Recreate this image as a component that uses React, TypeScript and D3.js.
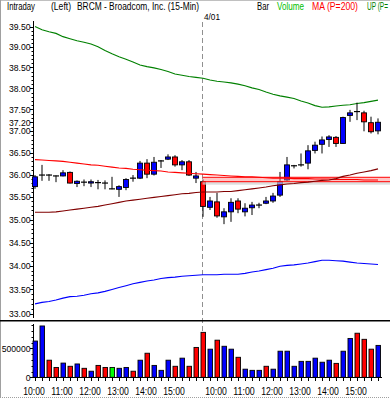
import React from 'react';
import * as d3 from 'd3';

// 15-minute bars, 3/31 from 10:00 and 4/01 from 09:30
const day1Times = ['10:00', '10:15', '10:30', '10:45', '11:00', '11:15', '11:30', '11:45', '12:00', '12:15', '12:30', '12:45',
  '13:00', '13:15', '13:30', '13:45', '14:00', '14:15', '14:30', '14:45', '15:00', '15:15', '15:30', '15:45'];
const day2Times = ['09:30', '09:45', '10:00', '10:15', '10:30', '10:45', '11:00', '11:15', '11:30', '11:45', '12:00', '12:15', '12:30',
  '12:45', '13:00', '13:15', '13:30', '13:45', '14:00', '14:15', '14:30', '14:45', '15:00', '15:15', '15:30', '15:45'];
const barKeys = [...day1Times.map(t => '3/31 ' + t), ...day2Times.map(t => '4/01 ' + t)];

const opens = [35.73, 35.99, 35.99, 35.97, 35.97, 36.05, 35.80, 35.83, 35.81, 35.82, 35.81, 35.68, 35.67, 35.71, 35.92, 35.92, 36.26, 36.01, 36.31, 36.35,
  36.40, 36.22, 36.29, 35.92, 35.84, 35.27, 35.39, 35.06, 35.17, 35.41, 35.17, 35.26, 35.32, 35.36, 35.41, 35.54, 35.88, 36.20, 36.22, 36.26,
  36.55, 36.69, 36.80, 36.85, 36.71, 37.36, 37.45, 37.42, 37.19, 37.00];
const highs = [35.99, 36.22, 36.01, 35.98, 36.10, 36.07, 35.87, 35.89, 35.89, 35.88, 35.87, 35.95, 35.76, 35.92, 35.99, 36.31, 36.35, 36.40, 36.33, 36.46,
  36.44, 36.33, 36.33, 36.06, 35.89, 35.50, 35.59, 35.25, 35.47, 35.47, 35.36, 35.39, 35.37, 35.50, 35.59, 36.06, 36.40, 36.22, 36.48, 36.67,
  36.75, 36.87, 36.90, 36.88, 37.33, 37.49, 37.66, 37.47, 37.33, 37.29];
const lows = [35.68, 35.86, 35.86, 35.83, 35.96, 35.80, 35.72, 35.74, 35.72, 35.67, 35.67, 35.67, 35.50, 35.65, 35.84, 35.90, 35.92, 35.98, 36.15, 36.33,
  36.18, 36.10, 35.97, 35.81, 35.06, 35.21, 35.04, 34.90, 34.95, 35.14, 35.07, 35.10, 35.25, 35.34, 35.37, 35.50, 35.86, 36.14, 36.18, 36.12,
  36.48, 36.48, 36.63, 36.63, 36.70, 37.21, 37.25, 36.99, 36.94, 36.92];
const closes = [35.95, 35.99, 35.99, 35.97, 36.04, 35.81, 35.85, 35.83, 35.84, 35.82, 35.81, 35.68, 35.73, 35.89, 35.92, 36.26, 36.01, 36.28, 36.31, 36.40,
  36.22, 36.29, 35.99, 35.97, 35.29, 35.41, 35.08, 35.17, 35.38, 35.23, 35.25, 35.32, 35.32, 35.41, 35.52, 35.84, 36.22, 36.20, 36.22, 36.54,
  36.67, 36.79, 36.86, 36.71, 37.31, 37.42, 37.45, 37.21, 36.98, 37.20];

const volumes = [625000, 885000, 295000, 170000, 245000, 190000, 230000, 155000, 105000, 205000, 170000, 170000, 155000, 170000, 105000, 295000,
  415000, 205000, 120000, 295000, 190000, 330000, 190000, 515000, 775000, 485000, 640000, 535000, 485000, 345000, 140000, 120000, 120000,
  190000, 140000, 450000, 450000, 190000, 275000, 275000, 330000, 260000, 295000, 240000, 450000, 670000, 760000, 655000, 485000, 550000];
// u = up, d = down, n = unchanged
const volumeDir = ['u', 'u', 'd', 'd', 'u', 'd', 'u', 'd', 'u', 'd', 'd', 'n', 'u', 'u', 'd', 'u', 'd', 'u', 'u', 'u',
  'd', 'u', 'd', 'd', 'd', 'u', 'd', 'u', 'u', 'd', 'u', 'u', 'u', 'd', 'u', 'u', 'u', 'u', 'u', 'u',
  'u', 'u', 'u', 'd', 'u', 'u', 'd', 'd', 'd', 'u'];

const upperBand = [39.50, 39.42, 39.37, 39.33, 39.25, 39.20, 39.15, 39.11, 39.07, 39.00, 38.91, 38.83, 38.76, 38.70, 38.63, 38.56, 38.52, 38.49,
  38.45, 38.40, 38.34, 38.31, 38.28, 38.26, 38.24, 38.20, 38.17, 38.15, 38.13, 38.10, 38.06, 38.01, 37.97, 37.91, 37.86, 37.82, 37.79, 37.76,
  37.70, 37.65, 37.59, 37.55, 37.56, 37.58, 37.60, 37.61, 37.64, 37.66, 37.69, 37.72];
const lowerBand = [33.20, 33.23, 33.25, 33.28, 33.32, 33.35, 33.36, 33.38, 33.41, 33.43, 33.46, 33.50, 33.54, 33.58, 33.62, 33.65, 33.68, 33.70,
  33.73, 33.75, 33.76, 33.78, 33.79, 33.80, 33.81, 33.81, 33.81, 33.82, 33.82, 33.82, 33.84, 33.87, 33.89, 33.92, 33.95, 33.99, 34.01, 34.02,
  34.04, 34.06, 34.09, 34.12, 34.12, 34.11, 34.10, 34.08, 34.06, 34.05, 34.04, 34.03];
const maLine = [36.34, 36.33, 36.32, 36.31, 36.30, 36.28, 36.26, 36.24, 36.22, 36.21, 36.19, 36.17, 36.15, 36.14, 36.12, 36.11, 36.10, 36.09,
  36.08, 36.06, 36.05, 36.04, 36.03, 36.02, 36.01, 36.00, 35.99, 35.98, 35.97, 35.96, 35.95, 35.95, 35.94, 35.93, 35.92, 35.92, 35.92, 35.91,
  35.91, 35.91, 35.90, 35.90, 35.90, 35.89, 35.89, 35.89, 35.89, 35.88, 35.88, 35.88];
const maSlow = [35.16, 35.16, 35.16, 35.17, 35.19, 35.21, 35.23, 35.25, 35.27, 35.29, 35.32, 35.35, 35.38, 35.41, 35.43, 35.45, 35.47, 35.49,
  35.51, 35.53, 35.55, 35.57, 35.58, 35.60, 35.61, 35.61, 35.61, 35.62, 35.62, 35.64, 35.66, 35.68, 35.70, 35.72, 35.75, 35.77, 35.79, 35.80,
  35.82, 35.83, 35.85, 35.87, 35.88, 35.91, 35.96, 35.99, 36.03, 36.06, 36.09, 36.13];

const bandLevel = 35.89;
const bandStart = '4/01 09:30';

const priceTicks = [39.5, 39, 38.5, 38, 37.5, 37.2, 37, 36.5, 36, 35.5, 35, 34.5, 34, 33.5, 33];
const volumeTicks = [0, 500000];

const W = 390;
const H = 398;
const axisX = 33;
const font = '"Liberation Sans", Arial, sans-serif';
const digitW = 4.8;

// narrow bitmap-like label width
const labelWidth = (s: string) => s.split('').reduce((w, ch) => w + (ch === '.' || ch === ':' ? 2.4 : digitW), 0);

export default function App() {
  const x = d3.scalePoint<string>().domain(barKeys).range([35, 378]);
  const y = d3.scaleLog().domain([33, 39.5]).range([313.5, 26.5]);
  const yv = d3.scaleLinear().domain([0, 500000]).range([377.3, 348.3]);

  const idx = d3.range(barKeys.length);
  const line = (vals: number[]) =>
    d3.line<number>().x(i => x(barKeys[i]) as number).y(i => y(vals[i]))(idx) || '';

  const minorPrice = d3.range(330, 396).map(v => v / 10);
  const minorVol = d3.range(0, 10).map(v => v * 100000);
  const splitX = (x(bandStart) as number) - 0.5;
  const bandY = y(bandLevel);
  const volColor: Record<string, string> = { u: '#0000ff', d: '#ff0000', n: '#00ff00' };

  return (
    <div style={{ position: 'absolute', left: 0, top: 0, width: W, height: H, background: '#fff' }}>
      <svg width={W} height={H} style={{ display: 'block', fontFamily: font }}>
        <rect x={0} y={0} width={W} height={H} fill="#fff" />
        <line x1={0} x2={W} y1={0.5} y2={0.5} stroke="#c0c0c0" />
        <line x1={0.5} x2={0.5} y1={0} y2={H} stroke="#a0a0a0" />

        {/* header */}
        <g fontSize={10} fill="#000">
          <text x={7} y={9.5} textLength={28} lengthAdjust="spacingAndGlyphs">Intraday</text>
          <text x={51} y={9.5} textLength={20} lengthAdjust="spacingAndGlyphs">(Left)</text>
          <text x={77} y={9.5} textLength={122} lengthAdjust="spacingAndGlyphs">BRCM - Broadcom, Inc.  (15-Min)</text>
          <text x={257} y={9.5} textLength={12} lengthAdjust="spacingAndGlyphs">Bar</text>
          <text x={277} y={9.5} textLength={27} lengthAdjust="spacingAndGlyphs" fill="#00c000">Volume</text>
          <text x={312} y={9.5} textLength={46} lengthAdjust="spacingAndGlyphs" fill="#ff0000">MA (P=200)</text>
          <text x={367} y={9.5} textLength={21} lengthAdjust="spacingAndGlyphs" fill="#008000">UP (P=</text>
        </g>
        <text x={204} y={20} fontSize={9.5} textLength={16} lengthAdjust="spacingAndGlyphs">4/01</text>

        {/* day split */}
        <line x1={splitX} x2={splitX} y1={22} y2={377} stroke="#909090" strokeDasharray="5,3" />

        {/* price axis */}
        <line x1={axisX + 0.5} x2={axisX + 0.5} y1={21} y2={318} stroke="#000" />
        {minorPrice.map(v => (
          <line key={'mp' + v} x1={axisX - 1.5} x2={axisX} y1={Math.round(y(v)) + 0.5} y2={Math.round(y(v)) + 0.5} stroke="#000" />
        ))}
        {priceTicks.map(v => {
          const s = v.toFixed(2);
          return (
            <g key={'pt' + v}>
              <line x1={axisX - 3} x2={axisX} y1={Math.round(y(v)) + 0.5} y2={Math.round(y(v)) + 0.5} stroke="#000" />
              <text x={axisX - 2.5 - labelWidth(s)} y={y(v) + 3.3} fontSize={9.5} textLength={labelWidth(s)} lengthAdjust="spacingAndGlyphs">{s}</text>
            </g>
          );
        })}

        {/* overlay lines */}
        <path d={line(upperBand)} fill="none" stroke="#008000" strokeWidth={1.1} />
        <path d={line(lowerBand)} fill="none" stroke="#0000ff" strokeWidth={1.1} />

        {/* candles */}
        {idx.map(i => {
          const cx = x(barKeys[i]) as number;
          const o = y(opens[i]);
          const c = y(closes[i]);
          const top = Math.min(o, c);
          const h = Math.abs(o - c);
          return (
            <g key={'c' + i}>
              <line x1={cx} x2={cx} y1={y(highs[i])} y2={y(lows[i])} stroke="#000" />
              {h < 1 ? (
                <line x1={cx - 3} x2={cx + 3} y1={o} y2={o} stroke="#000" strokeWidth={1.2} />
              ) : (
                <rect x={cx - 2.5} y={top} width={5} height={h} fill={closes[i] > opens[i] ? '#0000ff' : '#ff0000'} stroke="#000" strokeWidth={0.9} />
              )}
            </g>
          );
        })}

        {/* reference band */}
        <rect x={splitX} y={bandY + 2.2} width={W - splitX} height={3} fill="#d0d0d0" opacity={0.7} />
        <rect x={splitX} y={bandY - 2.2} width={W - splitX} height={4.4} fill="#ff8080" opacity={0.45} />
        <line x1={splitX} x2={W} y1={bandY - 2.2} y2={bandY - 2.2} stroke="#ff0000" strokeWidth={1} />
        <line x1={splitX} x2={W} y1={bandY + 2.2} y2={bandY + 2.2} stroke="#ff0000" strokeWidth={1} />

        <path d={line(maLine)} fill="none" stroke="#ff0000" strokeWidth={1.1} />
        <path d={line(maSlow)} fill="none" stroke="#800000" strokeWidth={1.1} />

        {/* panel separator */}
        <line x1={0} x2={W} y1={320.75} y2={320.75} stroke="#000" strokeWidth={1.5} />

        {/* volume */}
        <line x1={axisX + 0.5} x2={axisX + 0.5} y1={324} y2={378} stroke="#000" />
        {minorVol.map(v => (
          <line key={'mv' + v} x1={axisX - 1.5} x2={axisX} y1={Math.round(yv(v)) + 0.5} y2={Math.round(yv(v)) + 0.5} stroke="#000" />
        ))}
        {volumeTicks.map(v => {
          const s = String(v);
          return (
            <g key={'vt' + v}>
              <line x1={axisX - 3} x2={axisX} y1={Math.round(yv(v)) + 0.5} y2={Math.round(yv(v)) + 0.5} stroke="#000" />
              <text x={axisX - 2.5 - labelWidth(s)} y={yv(v) + 3.3} fontSize={9.5} textLength={labelWidth(s)} lengthAdjust="spacingAndGlyphs">{s}</text>
            </g>
          );
        })}
        {idx.map(i => {
          const cx = x(barKeys[i]) as number;
          return (
            <rect key={'v' + i} x={cx - 2} y={yv(volumes[i])} width={4.5} height={yv(0) - yv(volumes[i])}
              fill={volColor[volumeDir[i]]} stroke="#000" strokeWidth={0.9} />
          );
        })}
        <line x1={axisX} x2={382} y1={377.5} y2={377.5} stroke="#000" />

        {/* time axis */}
        {idx.map(i => {
          const cx = Math.round(x(barKeys[i]) as number) + 0.5;
          return <line key={'xt' + i} x1={cx} x2={cx} y1={377.5} y2={381} stroke="#000" />;
        })}
        {barKeys.map((k, i) => {
          const t = k.split(' ')[1];
          if (!t.endsWith(':00')) return null;
          const w = labelWidth(t);
          return (
            <text key={'xl' + i} x={(x(k) as number) - 1 - w / 2} y={395} fontSize={10} textLength={w} lengthAdjust="spacingAndGlyphs">{t}</text>
          );
        })}
        <line x1={0} x2={W} y1={397.5} y2={397.5} stroke="#a0a0a0" strokeDasharray="1,1" />
      </svg>
    </div>
  );
}
